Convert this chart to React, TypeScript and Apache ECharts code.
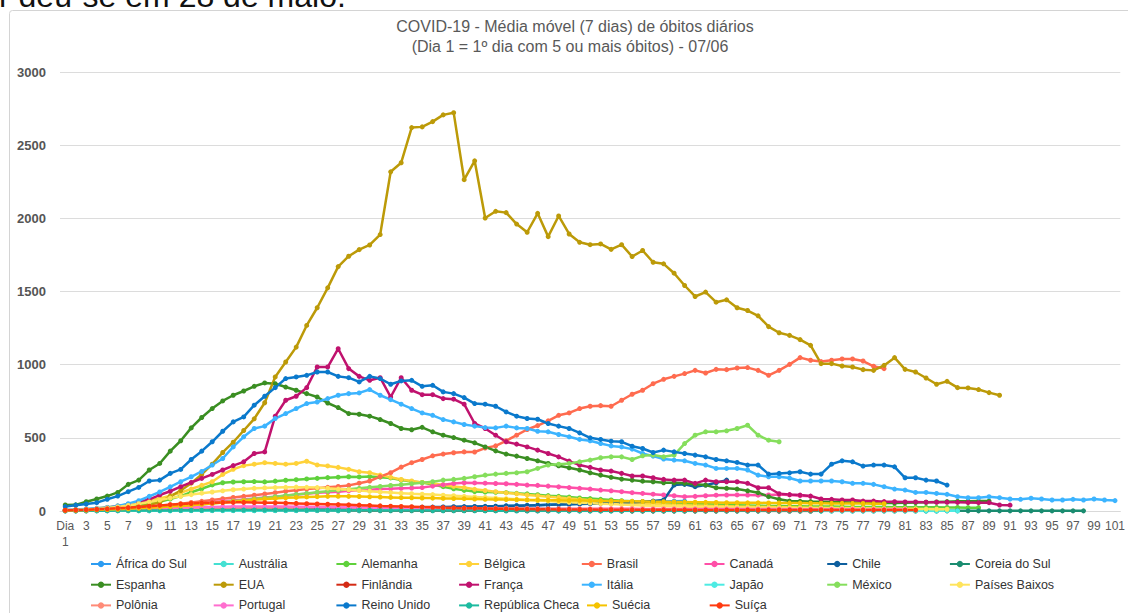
import React, { useEffect, useRef } from 'react';
import * as echarts from 'echarts';

const FONT = '"Liberation Sans", Arial, Helvetica, sans-serif';

const dayCount = 101;
const dayLabels: string[] = Array.from({ length: dayCount }, (_, i) => (i === 0 ? 'Dia\n1' : String(i + 1)));
const yTicks = [0, 500, 1000, 1500, 2000, 2500, 3000];

const seriesNames = [
  'África do Sul', 'Austrália', 'Alemanha', 'Bélgica', 'Brasil', 'Canadá', 'Chile', 'Coreia do Sul',
  'Espanha', 'EUA', 'Finlândia', 'França', 'Itália', 'Japão', 'México', 'Países Baixos',
  'Polônia', 'Portugal', 'Reino Unido', 'República Checa', 'Suécia', 'Suíça',
];

const seriesColors = [
  '#2C9CF2', '#44E0D2', '#5FD13B', '#FFD23A', '#FF6B4F', '#FF4FA8', '#0E5F9E', '#1A8C70',
  '#3A8E22', '#BC9A08', '#D42A14', '#C0126E', '#3CB4FF', '#4DEBE3', '#85DE5C', '#FFE45C',
  '#FF8B78', '#FF6ECF', '#0A79CC', '#1DBBA0', '#F5C300', '#FF3A10',
];

const africaDoSul = [3, 3, 4, 4, 5, 5, 6, 6, 7, 7, 8, 8, 9, 9, 10, 10, 11, 11, 12, 12, 13, 13, 14, 14, 15, 15, 16, 17, 17, 18, 19, 20, 21, 22, 23, 24, 25, 26, 27, 28, 30, 32, 34, 36, 38, 40, 42, 44, 46, 49, 52, 55, 57, 59, 61, 62, 64, 65, 67, 68];
const australia = [1, 1, 1, 1, 2, 2, 2, 2, 2, 3, 3, 3, 3, 3, 3, 3, 3, 3, 2, 2, 2, 2, 2, 2, 2, 2, 1, 1, 1, 1, 1, 1, 1, 1, 1, 1, 1, 1, 1, 1, 1, 1, 0, 0, 0, 0, 0, 0, 0, 0, 0, 0, 0, 0, 0, 0, 0, 0, 0, 0, 0, 0, 0, 0, 0, 0, 0, 0, 0, 0, 0, 0, 0, 0, 0, 0, 0, 0, 0, 0, 0, 0, 0, 0];
const alemanha = [3, 4, 6, 9, 13, 18, 25, 35, 48, 63, 82, 102, 128, 152, 178, 193, 198, 200, 201, 199, 204, 210, 214, 219, 223, 228, 231, 234, 233, 235, 231, 226, 212, 202, 195, 181, 166, 152, 141, 133, 130, 128, 126, 121, 117, 111, 105, 100, 95, 89, 85, 80, 75, 70, 66, 62, 58, 55, 52, 50, 48, 46, 44, 41, 40, 38, 36, 35, 34, 33, 32, 31, 30, 30, 29, 28, 28, 27, 27, 26, 26, 25, 25, 25, 24, 24, 23, 23];
const belgica = [5, 8, 12, 18, 25, 35, 45, 58, 72, 86, 105, 125, 150, 175, 200, 250, 285, 310, 320, 330, 325, 320, 325, 340, 315, 308, 298, 285, 268, 262, 245, 230, 215, 205, 195, 190, 178, 168, 160, 148, 140, 132, 124, 118, 110, 104, 98, 92, 86, 80, 74, 68, 62, 58, 55, 52, 48, 45, 42, 40, 38, 36, 34, 32, 30, 29, 28, 27, 26, 25, 24, 23, 22, 21, 20, 19, 18, 17, 16, 15, 15, 14];
const brasil = [4, 5, 7, 9, 12, 15, 19, 24, 30, 36, 42, 50, 58, 66, 75, 84, 92, 100, 108, 116, 125, 135, 142, 150, 156, 162, 168, 175, 190, 205, 235, 262, 300, 330, 352, 377, 389, 398, 404, 403, 430, 445, 480, 518, 557, 584, 616, 654, 670, 700, 716, 720, 716, 757, 798, 825, 870, 900, 920, 939, 961, 943, 968, 966, 977, 980, 961, 927, 961, 1002, 1048, 1030, 1021, 1030, 1039, 1039, 1025, 989, 973];
const canada = [3, 4, 5, 6, 8, 10, 12, 15, 19, 24, 30, 36, 43, 50, 58, 66, 72, 78, 85, 92, 98, 105, 112, 118, 124, 128, 132, 138, 142, 146, 150, 152, 155, 157, 160, 170, 180, 188, 193, 192, 190, 188, 186, 182, 177, 175, 170, 165, 160, 155, 150, 143, 138, 132, 125, 120, 115, 110, 104, 98, 100, 104, 108, 109, 110, 109, 108, 110, 112, 110, 105, 100];
const chile = [4, 5, 5, 6, 7, 7, 8, 9, 9, 10, 10, 11, 11, 12, 12, 12, 13, 13, 14, 14, 15, 15, 16, 16, 17, 17, 18, 19, 20, 21, 22, 23, 24, 25, 26, 27, 28, 29, 30, 31, 32, 33, 35, 36, 38, 40, 42, 44, 46, 48, 50, 52, 55, 57, 60, 63, 68, 75, 177, 182, 166, 177, 193, 211];
const coreiaDoSul = [3, 4, 5, 5, 6, 6, 6, 6, 5, 5, 5, 5, 5, 5, 5, 5, 5, 4, 4, 4, 4, 4, 4, 4, 4, 5, 5, 5, 5, 5, 5, 5, 5, 4, 4, 4, 4, 4, 3, 3, 3, 3, 3, 3, 2, 2, 2, 2, 2, 2, 2, 2, 2, 1, 1, 1, 1, 1, 1, 1, 1, 1, 1, 1, 1, 1, 1, 1, 1, 1, 1, 1, 1, 1, 1, 1, 1, 1, 1, 1, 1, 1, 1, 1, 1, 1, 1, 1, 1, 1, 1, 1, 1, 1, 1, 1, 1, 1];
const espanha = [41, 42, 63, 82, 102, 127, 182, 211, 280, 325, 409, 480, 568, 639, 700, 752, 791, 820, 852, 875, 870, 847, 825, 802, 779, 738, 707, 666, 661, 648, 625, 598, 564, 555, 572, 541, 518, 502, 484, 466, 438, 411, 389, 375, 359, 343, 325, 309, 295, 280, 261, 245, 230, 218, 211, 204, 200, 193, 193, 189, 182, 177, 159, 155, 150, 138, 125, 98, 80, 68, 66, 64, 63, 62, 60, 58, 58, 56, 55, 55, 56, 58, 60, 62, 64, 66, 67, 68, 68];
const eua = [5, 6, 8, 10, 13, 17, 22, 30, 42, 60, 100, 140, 190, 250, 320, 400, 470, 550, 630, 740, 916, 1018, 1120, 1268, 1389, 1525, 1670, 1741, 1786, 1818, 1889, 2318, 2380, 2620, 2625, 2661, 2707, 2722, 2264, 2393, 2002, 2048, 2039, 1961, 1905, 2034, 1875, 2016, 1893, 1836, 1820, 1825, 1788, 1820, 1739, 1780, 1700, 1689, 1625, 1541, 1466, 1496, 1427, 1443, 1389, 1370, 1334, 1260, 1218, 1200, 1171, 1132, 1007, 1007, 991, 984, 966, 961, 995, 1048, 968, 950, 909, 866, 886, 843, 841, 830, 809, 791];
const finlandia = [1, 1, 1, 2, 2, 2, 3, 3, 3, 4, 4, 4, 5, 5, 5, 6, 6, 6, 7, 7, 7, 7, 7, 6, 6, 6, 6, 5, 5, 5, 5, 5, 4, 4, 4, 4, 4, 3, 3, 3, 3, 3, 3, 3, 2, 2, 2, 2, 2, 2, 2, 2, 2, 1, 1, 1, 1, 1, 1, 1, 1, 1, 1, 1, 1, 1, 1, 0, 0, 0, 0, 0];
const franca = [5, 7, 10, 15, 22, 32, 45, 60, 80, 109, 135, 166, 195, 223, 250, 280, 310, 336, 393, 404, 648, 757, 784, 843, 984, 984, 1109, 973, 920, 893, 911, 779, 911, 825, 795, 795, 768, 764, 730, 598, 564, 518, 473, 457, 438, 416, 393, 370, 341, 314, 298, 280, 273, 257, 239, 239, 227, 216, 211, 211, 189, 211, 200, 200, 200, 189, 159, 159, 118, 112, 109, 102, 82, 80, 75, 75, 68, 68, 64, 63, 62, 62, 60, 60, 60, 59, 58, 57, 57, 41, 40];
const italia = [8, 10, 14, 18, 24, 35, 50, 70, 100, 130, 165, 200, 234, 270, 314, 359, 438, 507, 564, 580, 632, 666, 700, 734, 745, 768, 791, 802, 807, 830, 791, 761, 730, 700, 670, 654, 625, 609, 591, 580, 570, 568, 580, 568, 564, 545, 541, 523, 507, 489, 480, 461, 445, 438, 423, 393, 375, 355, 348, 343, 325, 314, 291, 291, 291, 280, 245, 234, 234, 225, 205, 205, 205, 205, 200, 189, 189, 182, 166, 150, 143, 127, 127, 120, 114, 98, 91, 91, 98, 91, 82, 80, 87, 82, 75, 75, 80, 75, 82, 75, 71];
const japao = [1, 1, 1, 1, 1, 1, 1, 1, 1, 1, 1, 2, 2, 2, 2, 2, 2, 2, 2, 2, 3, 3, 3, 4, 4, 5, 5, 6, 7, 8, 9, 10, 11, 12, 13, 14, 15, 16, 17, 17, 18, 18, 18, 17, 17, 16, 15, 14, 13, 12, 11, 10, 9, 8, 7, 6, 5, 5, 4, 4, 3, 3, 3, 2, 2, 2, 2, 2, 2, 1, 1, 1, 1, 1, 1, 1, 1, 1, 1, 1, 1, 1, 1, 1, 1, 1];
const mexico = [4, 5, 6, 8, 10, 12, 15, 18, 22, 26, 30, 34, 41, 45, 53, 58, 69, 74, 83, 89, 98, 106, 113, 120, 128, 135, 142, 148, 155, 162, 168, 174, 180, 186, 193, 200, 211, 216, 223, 234, 245, 252, 257, 261, 268, 291, 314, 320, 325, 336, 348, 364, 370, 370, 352, 377, 382, 370, 382, 461, 518, 541, 541, 548, 564, 586, 518, 484, 473];
const paisesBaixos = [5, 7, 10, 14, 20, 28, 38, 50, 62, 75, 88, 100, 112, 122, 130, 138, 145, 150, 155, 158, 160, 162, 163, 162, 160, 156, 150, 145, 140, 135, 130, 126, 122, 118, 115, 112, 108, 104, 100, 96, 92, 88, 84, 80, 76, 72, 68, 64, 60, 57, 54, 50, 47, 44, 41, 38, 36, 34, 32, 30, 28, 27, 26, 25, 24, 23, 22, 21, 20, 19, 18, 18, 17, 17, 16, 16, 15, 15, 14, 14, 13, 13, 13, 12, 12];
const polonia = [3, 3, 4, 5, 5, 6, 7, 8, 9, 10, 11, 12, 13, 14, 15, 16, 17, 18, 19, 20, 21, 22, 23, 24, 25, 26, 26, 25, 24, 23, 22, 21, 21, 20, 20, 20, 20, 19, 19, 19, 18, 18, 18, 17, 17, 17, 16, 16, 16, 16, 15, 15, 15, 15, 15, 14, 14, 14, 14, 14, 14, 14, 13, 13, 13, 13, 13, 13, 13, 12, 12, 12, 12, 12, 12, 12];
const portugal = [3, 4, 5, 7, 9, 11, 13, 15, 18, 20, 22, 24, 26, 27, 28, 29, 30, 31, 31, 31, 30, 30, 29, 29, 28, 27, 26, 25, 24, 23, 22, 21, 20, 19, 18, 17, 17, 16, 16, 15, 15, 15, 14, 14, 14, 14, 13, 13, 13, 13, 13, 13, 13, 13, 13, 12, 12, 12, 12, 12, 12, 12, 12, 12, 12, 11, 11, 11, 11, 11, 11, 11, 11, 11, 11, 11, 11, 11, 11, 11, 11];
const reinoUnido = [30, 40, 48, 57, 80, 102, 132, 161, 205, 211, 257, 284, 352, 409, 473, 545, 609, 643, 723, 784, 843, 905, 916, 927, 950, 950, 920, 911, 882, 920, 905, 866, 889, 893, 852, 859, 814, 802, 775, 734, 730, 716, 677, 648, 632, 627, 598, 580, 564, 534, 500, 489, 477, 473, 443, 427, 400, 416, 404, 393, 382, 370, 352, 343, 332, 314, 314, 252, 257, 261, 268, 252, 252, 320, 343, 336, 307, 314, 314, 302, 227, 227, 211, 205, 177];
const republicaCheca = [1, 1, 2, 2, 2, 3, 3, 3, 4, 4, 4, 5, 5, 5, 6, 6, 6, 7, 7, 7, 7, 7, 6, 6, 6, 6, 5, 5, 5, 5, 4, 4, 4, 4, 3, 3, 3, 3, 3, 3, 2, 2, 2, 2, 2, 2, 2, 1, 1, 1, 1, 1, 1, 1, 1, 1, 1, 1, 1, 1, 1, 1, 1, 1, 1, 1, 1, 1, 1, 1, 1, 1, 1];
const suecia = [4, 5, 6, 8, 10, 12, 15, 18, 22, 26, 30, 35, 40, 46, 52, 58, 64, 70, 76, 82, 86, 90, 93, 96, 98, 100, 101, 100, 99, 97, 95, 93, 91, 90, 89, 88, 86, 85, 84, 82, 80, 79, 78, 77, 76, 75, 74, 73, 72, 71, 70, 69, 68, 67, 66, 65, 64, 63, 62, 61, 60, 59, 58, 57, 57, 56, 56, 55, 55, 54, 54, 53, 53, 52, 52, 51, 51, 50, 50];
const suica = [5, 7, 9, 12, 15, 19, 23, 28, 33, 38, 43, 47, 51, 54, 56, 58, 59, 59, 58, 57, 56, 54, 52, 50, 48, 46, 44, 42, 40, 38, 35, 33, 31, 29, 27, 25, 23, 21, 19, 18, 17, 16, 15, 14, 13, 12, 12, 11, 11, 10, 10, 9, 9, 9, 8, 8, 8, 8, 8, 8, 7, 7, 7, 7, 7, 7, 7, 7, 7, 7, 7, 7, 7, 6, 6, 6, 6, 6, 6, 6, 6, 6];

const seriesData = [
  africaDoSul, australia, alemanha, belgica, brasil, canada, chile, coreiaDoSul,
  espanha, eua, finlandia, franca, italia, japao, mexico, paisesBaixos,
  polonia, portugal, reinoUnido, republicaCheca, suecia, suica,
];

const titleLines = [
  'COVID-19 - Média móvel (7 dias) de óbitos diários',
  '(Dia 1 = 1º dia com 5 ou mais óbitos) - 07/06',
];
const topText = 'r deu-se em 28 de maio.';

export default function App() {
  const ref = useRef<HTMLDivElement>(null);
  useEffect(() => {
    if (!ref.current) return;
    const chart = echarts.init(ref.current, undefined, { renderer: 'svg' });
    const option: any = {
      animation: false,
      textStyle: { fontFamily: FONT },
      grid: { left: 60, right: 1, top: 72, bottom: 102, containLabel: false },
      xAxis: {
        type: 'category',
        data: dayLabels,
        boundaryGap: true,
        axisLine: { show: true, lineStyle: { color: '#d9d9d9' } },
        axisTick: { show: false },
        axisLabel: { interval: 1, color: '#595959', fontSize: 12, margin: 7, lineHeight: 16, fontFamily: FONT },
        splitLine: { show: false },
      },
      yAxis: {
        type: 'value',
        min: yTicks[0],
        max: yTicks[yTicks.length - 1],
        interval: yTicks[1] - yTicks[0],
        axisLine: { show: false },
        axisTick: { show: false },
        axisLabel: {
          color: '#555555',
          fontSize: 13,
          fontWeight: 'bold',
          margin: 14,
          fontFamily: FONT,
          formatter: (v: number) => String(v),
        },
        splitLine: { lineStyle: { color: '#dcdcdc', width: 1 } },
      },
      legend: {
        data: seriesNames,
        left: 90,
        top: 557,
        width: 985,
        padding: 0,
        itemWidth: 20,
        itemHeight: 8,
        itemGap: 6.7,
        textStyle: { fontSize: 12.5, color: '#333333', width: 90, lineHeight: 14, overflow: 'none', fontFamily: FONT },
      },
      graphic: [
        {
          type: 'rect',
          silent: true,
          z: -10,
          shape: { x: 9.5, y: 10.5, width: 1300, height: 700, r: 3 },
          style: { fill: 'none', stroke: '#d4d4d4', lineWidth: 1 },
        },
        {
          type: 'text',
          silent: true,
          x: 575,
          y: 26,
          style: { text: titleLines[0], fill: '#595959', font: `16px ${FONT}`, align: 'center', verticalAlign: 'middle' },
        },
        {
          type: 'text',
          silent: true,
          x: 570,
          y: 46,
          style: { text: titleLines[1], fill: '#595959', font: `16px ${FONT}`, align: 'center', verticalAlign: 'middle' },
        },
        {
          type: 'text',
          silent: true,
          x: -1,
          y: -4.5,
          style: { text: topText, fill: '#111111', font: `32px ${FONT}`, align: 'left', verticalAlign: 'middle' },
        },
      ],
      series: seriesNames.map((name, i) => ({
        name,
        type: 'line',
        data: seriesData[i],
        symbol: 'circle',
        symbolSize: 5,
        showSymbol: true,
        lineStyle: { width: 2.5, color: seriesColors[i] },
        itemStyle: { color: seriesColors[i] },
        emphasis: { disabled: true },
      })),
    };
    chart.setOption(option);
    return () => chart.dispose();
  }, []);
  return (
    <div
      ref={ref}
      style={{ position: 'absolute', left: 0, top: 0, width: 1128, height: 613, background: '#ffffff' }}
    />
  );
}
